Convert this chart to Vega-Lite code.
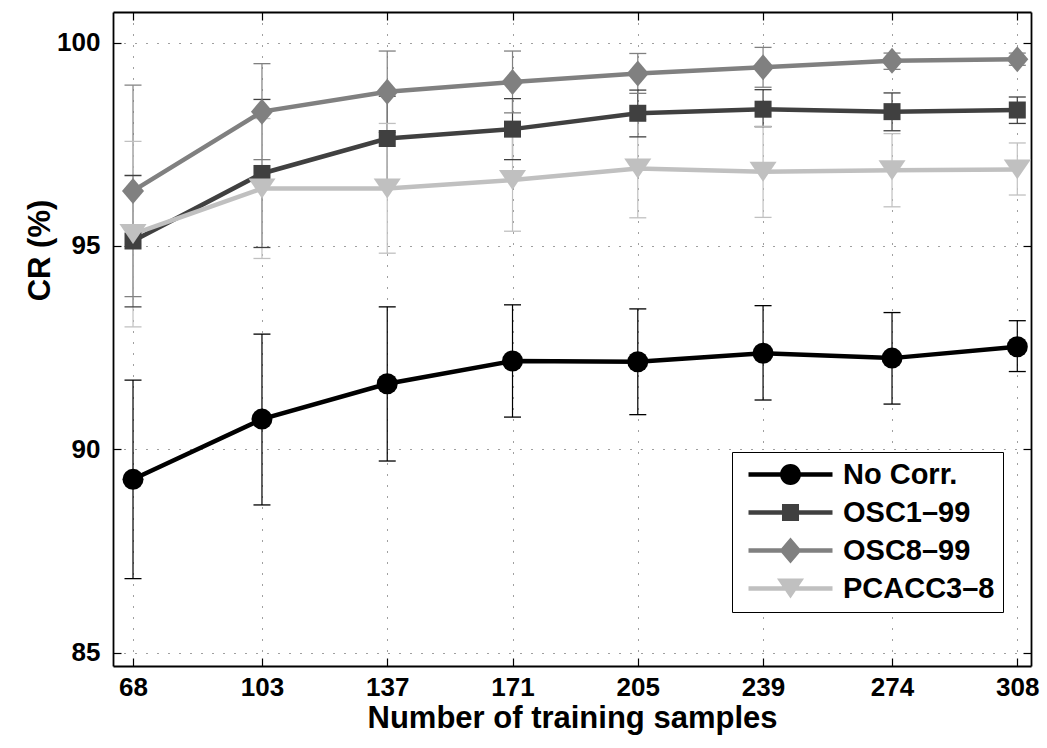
{
  "$schema": "https://vega.github.io/schema/vega-lite/v6.json",
  "width": 918,
  "height": 654,
  "autosize": {"type": "none"},
  "padding": {"left": 113, "top": 12, "right": 16, "bottom": 82},
  "background": "white",
  "config": {
    "view": {"stroke": null},
    "axis": {
      "labelFont": "Liberation Sans", "labelFontWeight": "bold", "labelFontSize": 26, "labelColor": "black",
      "titleFont": "Liberation Sans", "titleFontWeight": "bold", "titleFontSize": 31, "titleColor": "black",
      "domainColor": "black", "domainWidth": 1.8, "tickColor": "black", "tickWidth": 1.2, "tickSize": -8,
      "gridColor": "#000000", "gridDash": [1, 10], "gridWidth": 1, "gridOpacity": 0.75
    }
  },
  "datasets": {
    "d": [
      {"n": 68, "series": "No Corr.", "cr": 89.26, "lo": 86.82, "hi": 91.70},
      {"n": 103, "series": "No Corr.", "cr": 90.74, "lo": 88.63, "hi": 92.83},
      {"n": 137, "series": "No Corr.", "cr": 91.61, "lo": 89.71, "hi": 93.50},
      {"n": 171, "series": "No Corr.", "cr": 92.17, "lo": 90.79, "hi": 93.55},
      {"n": 205, "series": "No Corr.", "cr": 92.15, "lo": 90.85, "hi": 93.45},
      {"n": 239, "series": "No Corr.", "cr": 92.36, "lo": 91.21, "hi": 93.53},
      {"n": 274, "series": "No Corr.", "cr": 92.24, "lo": 91.11, "hi": 93.36},
      {"n": 308, "series": "No Corr.", "cr": 92.52, "lo": 91.91, "hi": 93.16},
      {"n": 68, "series": "OSC1–99", "cr": 95.12, "lo": 93.50, "hi": 96.73},
      {"n": 103, "series": "OSC1–99", "cr": 96.78, "lo": 94.96, "hi": 98.60},
      {"n": 137, "series": "OSC1–99", "cr": 97.64, "lo": 96.60, "hi": 98.68},
      {"n": 171, "series": "OSC1–99", "cr": 97.87, "lo": 97.12, "hi": 98.62},
      {"n": 205, "series": "OSC1–99", "cr": 98.26, "lo": 97.68, "hi": 98.83},
      {"n": 239, "series": "OSC1–99", "cr": 98.36, "lo": 97.93, "hi": 98.84},
      {"n": 274, "series": "OSC1–99", "cr": 98.30, "lo": 97.83, "hi": 98.76},
      {"n": 308, "series": "OSC1–99", "cr": 98.34, "lo": 98.01, "hi": 98.66},
      {"n": 68, "series": "OSC8–99", "cr": 96.35, "lo": 93.75, "hi": 98.95},
      {"n": 103, "series": "OSC8–99", "cr": 98.30, "lo": 97.12, "hi": 99.48},
      {"n": 137, "series": "OSC8–99", "cr": 98.79, "lo": 97.79, "hi": 99.79},
      {"n": 171, "series": "OSC8–99", "cr": 99.03, "lo": 98.27, "hi": 99.79},
      {"n": 205, "series": "OSC8–99", "cr": 99.24, "lo": 98.75, "hi": 99.73},
      {"n": 239, "series": "OSC8–99", "cr": 99.39, "lo": 98.90, "hi": 99.88},
      {"n": 274, "series": "OSC8–99", "cr": 99.55, "lo": 99.34, "hi": 99.74},
      {"n": 308, "series": "OSC8–99", "cr": 99.59, "lo": 99.44, "hi": 99.74},
      {"n": 68, "series": "PCACC3–8", "cr": 95.29, "lo": 93.01, "hi": 97.57},
      {"n": 103, "series": "PCACC3–8", "cr": 96.41, "lo": 94.69, "hi": 98.13},
      {"n": 137, "series": "PCACC3–8", "cr": 96.41, "lo": 94.82, "hi": 98.01},
      {"n": 171, "series": "PCACC3–8", "cr": 96.62, "lo": 95.36, "hi": 97.88},
      {"n": 205, "series": "PCACC3–8", "cr": 96.90, "lo": 95.69, "hi": 98.11},
      {"n": 239, "series": "PCACC3–8", "cr": 96.82, "lo": 95.70, "hi": 97.94},
      {"n": 274, "series": "PCACC3–8", "cr": 96.86, "lo": 95.96, "hi": 97.76},
      {"n": 308, "series": "PCACC3–8", "cr": 96.88, "lo": 96.25, "hi": 97.53}
    ]
  },
  "data": {"name": "d"},
  "layer": [
    {
      "mark": {"type": "rule", "strokeWidth": 1.2},
      "encoding": {
        "x": {
          "field": "n", "type": "quantitative",
          "scale": {"domain": [62.57, 311.72], "nice": false, "zero": false},
          "axis": {"orient": "bottom", "values": [68, 103, 137, 171, 205, 239, 274, 308], "title": "Number of training samples", "grid": true, "labelPadding": 37, "labelBaseline": "alphabetic", "titleY": 61, "titleBaseline": "alphabetic"}
        },
        "y": {
          "field": "lo", "type": "quantitative",
          "scale": {"domain": [84.67, 100.75], "nice": false, "zero": false},
          "axis": {"orient": "left", "values": [85, 90, 95, 100], "title": "CR (%)", "grid": true, "labelPadding": 21, "titleAngle": 270, "titleX": -64, "titleY": 238, "titleBaseline": "alphabetic", "titleAlign": "center"}
        },
        "y2": {"field": "hi"},
        "color": {
          "field": "series", "type": "nominal",
          "scale": {"domain": ["No Corr.", "OSC1–99", "OSC8–99", "PCACC3–8"], "range": ["#000000", "#404040", "#808080", "#c0c0c0"]},
          "legend": {
            "orient": "none", "legendX": 619, "legendY": 440, "title": null,
            "labelFont": "Liberation Sans", "labelFontWeight": "bold", "labelFontSize": 29, "labelColor": "black",
            "strokeColor": "black", "fillColor": "white", "padding": 8, "rowPadding": 8,
            "symbolSize": 441, "labelOffset": 38, "symbolOffset": 36, "symbolStrokeWidth": 0, "symbolOpacity": 1,
            "encoding": {
              "symbols": {
                "shape": {
                  "condition": [
                    {"test": "datum.value === 'No Corr.'", "value": "M-4,-0.21L4,-0.21L4,0.21L-4,0.21Z M-1,0A1,1 0 1,1 1,0A1,1 0 1,1 -1,0Z"},
                    {"test": "datum.value === 'OSC1–99'", "value": "M-4,-0.21L4,-0.21L4,0.21L-4,0.21Z M-0.81,-0.81L0.81,-0.81L0.81,0.81L-0.81,0.81Z"},
                    {"test": "datum.value === 'OSC8–99'", "value": "M-4,-0.21L4,-0.21L4,0.21L-4,0.21Z M0,-1.24L1.05,0L0,1.24L-1.05,0Z"}
                  ],
                  "value": "M-4,-0.21L4,-0.21L4,0.21L-4,0.21Z M-1.29,-0.95L1.29,-0.95L0,0.95Z"
                },
                "fill": {"value": {"signal": "scale('color', datum.value)"}},
                "size": {"value": 441}
              }
            }
          }
        }
      }
    },
    {
      "mark": {"type": "tick", "orient": "horizontal", "size": 17, "thickness": 1.3, "opacity": 1},
      "encoding": {
        "x": {"field": "n", "type": "quantitative", "axis": {"orient": "top", "values": [68, 103, 137, 171, 205, 239, 274, 308], "labels": false, "title": null, "grid": false}},
        "y": {"field": "lo", "type": "quantitative", "axis": {"orient": "right", "values": [85, 90, 95, 100], "labels": false, "title": null, "grid": false}},
        "color": {"field": "series", "type": "nominal"}
      }
    },
    {
      "mark": {"type": "tick", "orient": "horizontal", "size": 17, "thickness": 1.3, "opacity": 1},
      "encoding": {
        "x": {"field": "n", "type": "quantitative", "axis": null},
        "y": {"field": "hi", "type": "quantitative", "axis": null},
        "color": {"field": "series", "type": "nominal"}
      }
    },
    {
      "mark": {"type": "line", "strokeWidth": 4.5},
      "encoding": {
        "x": {"field": "n", "type": "quantitative", "axis": null},
        "y": {"field": "cr", "type": "quantitative", "axis": null},
        "color": {"field": "series", "type": "nominal"}
      }
    },
    {
      "transform": [{"filter": "datum.series === 'No Corr.'"}],
      "mark": {"type": "point", "filled": true, "opacity": 1, "size": 441, "shape": "circle"},
      "encoding": {
        "x": {"field": "n", "type": "quantitative", "axis": null},
        "y": {"field": "cr", "type": "quantitative", "axis": null},
        "color": {"field": "series", "type": "nominal"}
      }
    },
    {
      "transform": [{"filter": "datum.series === 'OSC1–99'"}],
      "mark": {"type": "point", "filled": true, "opacity": 1, "size": 441, "shape": "M-0.81,-0.81L0.81,-0.81L0.81,0.81L-0.81,0.81Z"},
      "encoding": {
        "x": {"field": "n", "type": "quantitative", "axis": null},
        "y": {"field": "cr", "type": "quantitative", "axis": null},
        "color": {"field": "series", "type": "nominal"}
      }
    },
    {
      "transform": [{"filter": "datum.series === 'OSC8–99'"}],
      "mark": {"type": "point", "filled": true, "opacity": 1, "size": 441, "shape": "M0,-1.24L1.05,0L0,1.24L-1.05,0Z"},
      "encoding": {
        "x": {"field": "n", "type": "quantitative", "axis": null},
        "y": {"field": "cr", "type": "quantitative", "axis": null},
        "color": {"field": "series", "type": "nominal"}
      }
    },
    {
      "transform": [{"filter": "datum.series === 'PCACC3–8'"}],
      "mark": {"type": "point", "filled": true, "opacity": 1, "size": 441, "shape": "M-1.29,-0.95L1.29,-0.95L0,0.95Z"},
      "encoding": {
        "x": {"field": "n", "type": "quantitative", "axis": null},
        "y": {"field": "cr", "type": "quantitative", "axis": null},
        "color": {"field": "series", "type": "nominal"}
      }
    }
  ]
}
